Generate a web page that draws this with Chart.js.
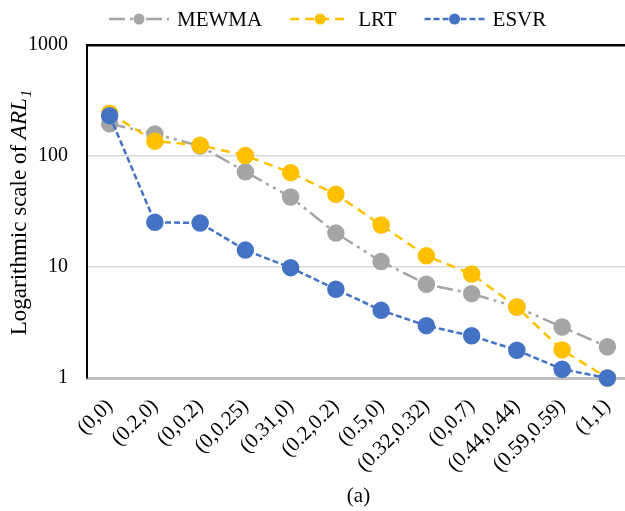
<!DOCTYPE html>
<html>
<head>
<meta charset="utf-8">
<script src="https://cdn.jsdelivr.net/npm/chart.js@4.4.1/dist/chart.umd.min.js"></script>
<style>
  html, body { margin: 0; padding: 0; background: #fff; overflow: hidden; }
  #wrap { width: 640px; height: 511px; }
</style>
</head>
<body>
<div id="wrap"><canvas id="chart"></canvas></div>
<script>
'use strict';
// data
var categories = ['(0,0)', '(0.2,0)', '(0,0.2)', '(0,0.25)', '(0.31,0)', '(0.2,0.2)',
	'(0.5,0)', '(0.32,0.32)', '(0,0.7)', '(0.44,0.44)', '(0.59,0.59)', '(1,1)'];
var mewma = [195, 158, 123, 72, 42.7, 20.2, 11.2, 7.0, 5.75, 4.36, 2.88, 1.91];
var lrt = [243, 136, 125, 101, 70.8, 45.2, 23.9, 12.6, 8.65, 4.36, 1.79, 1.0];
var esvr = [231, 25.3, 24.9, 14.2, 9.86, 6.3, 4.07, 2.96, 2.4, 1.78, 1.2, 1.0];
var yTicks = [1, 10, 100, 1000];

var serif = '"Liberation Serif", "Times New Roman", serif';

// legend and y title drawn by hand (mixed italic / subscript)
var extras = {
	id: 'extras',
	afterDraw: function (chart) {
		var c = chart.ctx;
		c.save();
		// legend
		var x = 109, y = 19;
		chart.data.datasets.forEach(function (d) {
			c.strokeStyle = d.borderColor;
			c.lineWidth = d.borderWidth;
			c.setLineDash(d.borderDash);
			c.beginPath();
			c.moveTo(x, y);
			c.lineTo(x + 60, y);
			c.stroke();
			c.setLineDash([]);
			c.fillStyle = d.pointBackgroundColor;
			c.beginPath();
			c.arc(x + 30, y, 5.5, 0, Math.PI * 2);
			c.fill();
			c.font = '21px ' + serif;
			c.fillStyle = '#000';
			c.textBaseline = 'middle';
			c.fillText(d.label, x + 68, y + 1);
			x += 68 + c.measureText(d.label).width + 28;
		});
		// y axis title
		var a = 'Logarithmic scale of ', b = 'ARL', s = '1';
		c.font = '23px ' + serif;
		var wa = c.measureText(a).width;
		c.font = 'italic 23px ' + serif;
		var wb = c.measureText(b).width;
		c.font = 'italic 15px ' + serif;
		var ws = c.measureText(s).width;
		var len = wa + wb + ws;
		c.translate(26, 213);
		c.rotate(-Math.PI / 2);
		c.textBaseline = 'alphabetic';
		c.textAlign = 'left';
		c.font = '23px ' + serif;
		c.fillText(a, -len / 2, 0);
		c.font = 'italic 23px ' + serif;
		c.fillText(b, -len / 2 + wa, 0);
		c.font = 'italic 15px ' + serif;
		c.fillText(s, -len / 2 + wa + wb + 1, 5);
		c.restore();
	}
};

new Chart(document.getElementById('chart'), {
	type: 'line',
	data: {
		labels: categories,
		datasets: [
			{
				label: 'MEWMA',
				data: mewma,
				borderColor: '#A5A5A5',
				pointBackgroundColor: '#A5A5A5',
				borderWidth: 2.5,
				borderDash: [16, 5, 3, 5, 3, 5],
				order: 3
			},
			{
				label: 'LRT',
				data: lrt,
				borderColor: '#FFC000',
				pointBackgroundColor: '#FFC000',
				borderWidth: 2.5,
				borderDash: [9, 6],
				order: 2
			},
			{
				label: 'ESVR',
				data: esvr,
				borderColor: '#4472C4',
				pointBackgroundColor: '#4472C4',
				borderWidth: 2.5,
				borderDash: [6, 3],
				order: 1
			}
		]
	},
	options: {
		responsive: true,
		maintainAspectRatio: false,
		animation: false,
		layout: { padding: { top: 45, left: 0, right: 0, bottom: 0 } },
		elements: {
			line: { tension: 0, fill: false },
			point: { radius: 7.5, hoverRadius: 7.5, borderWidth: 0 }
		},
		datasets: { line: { clip: false } },
		plugins: {
			legend: { display: false },
			tooltip: { enabled: false },
			title: { display: false }
		},
		scales: {
			x: {
				offset: true,
				grid: { drawOnChartArea: false, drawTicks: false, offset: true },
				border: { display: true, color: '#BFBFBF', width: 3 },
				ticks: {
					autoSkip: false,
					maxRotation: 45,
					minRotation: 45,
					padding: 16,
					color: '#000',
					font: { family: serif, size: 21 }
				},
				title: {
					display: true,
					text: '(a)',
					color: '#000',
					font: { family: serif, size: 21 },
					padding: { top: 0, bottom: 2 }
				},
				afterFit: function (s) {
					s.height = 133;
					s.paddingRight = 0;
				}
			},
			y: {
				type: 'logarithmic',
				min: 1,
				max: 1000,
				afterBuildTicks: function (s) {
					s.ticks = yTicks.map(function (v) { return { value: v }; });
				},
				afterFit: function (s) { s.width = 87; },
				grid: {
					drawTicks: false,
					color: function (ctx) {
						var v = ctx.tick && ctx.tick.value;
						if (v === 1000) return '#000';
						if (v === 1) return 'rgba(0,0,0,0)';
						return '#D9D9D9';
					},
					lineWidth: function (ctx) {
						return ctx.tick && ctx.tick.value === 1000 ? 2.5 : 1.5;
					}
				},
				border: { display: true, color: '#000', width: 2 },
				ticks: {
					padding: 19,
					color: '#000',
					font: { family: serif, size: 20 },
					callback: function (v) { return String(v); }
				}
			}
		}
	},
	plugins: [extras]
});
</script>
</body>
</html>
